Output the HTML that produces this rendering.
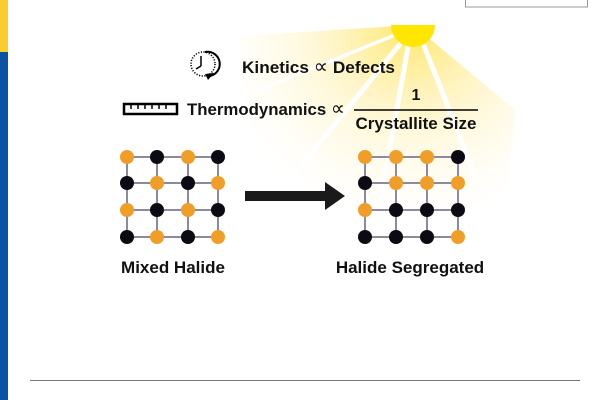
<!DOCTYPE html>
<html><head><style>
body{margin:0;width:600px;height:400px;background:#fff;overflow:hidden;font-family:"Liberation Sans",sans-serif}
</style></head><body>
<svg width="600" height="400" xmlns="http://www.w3.org/2000/svg" style="position:absolute;left:0;top:0">
<defs>
<radialGradient id="g" cx="413" cy="25" r="200" gradientUnits="userSpaceOnUse">
<stop offset="0" stop-color="#ffe24a" stop-opacity="0.85"/>
<stop offset="0.45" stop-color="#ffeb94" stop-opacity="0.45"/>
<stop offset="1" stop-color="#fff8d8" stop-opacity="0"/>
</radialGradient>
</defs>
<rect x="0" y="0" width="8" height="52" fill="#fccb2e"/>
<rect x="0" y="52" width="8" height="348" fill="#0a52a4"/>
<rect x="465.5" y="-2" width="122" height="9" fill="none" stroke="#999" stroke-width="1"/>
<polygon points="413,25 240,36 250,215 505,215 515,110" fill="url(#g)"/>
<g stroke="#fff" stroke-linecap="round">
<line x1="395" y1="35" x2="240" y2="98" stroke-width="3.5"/>
<line x1="400" y1="44" x2="265" y2="210" stroke-width="5"/>
<line x1="408" y1="47" x2="378" y2="215" stroke-width="5"/>
<line x1="424" y1="46" x2="475" y2="175" stroke-width="5"/>
</g>
<path d="M391,25 A22,22 0 0 0 435,25 Z" fill="#ffe600"/>
<!-- clock -->
<circle cx="203" cy="64" r="12" fill="none" stroke="#000" stroke-width="1.5" stroke-dasharray="1.2 1.5"/>
<path d="M205,52 A12,12 0 0 1 210,76" fill="none" stroke="#000" stroke-width="2"/>
<polygon points="205,74 214,73 208,80" fill="#000"/>
<line x1="201" y1="56" x2="201" y2="66" stroke="#000" stroke-width="1.5"/>
<line x1="201" y1="66" x2="196" y2="69" stroke="#000" stroke-width="1.5"/>
<!-- ruler -->
<rect x="124" y="104" width="53" height="10" fill="none" stroke="#000" stroke-width="2.5"/>
<g stroke="#000" stroke-width="1.5"><line x1="131" y1="104" x2="131" y2="109"/><line x1="138" y1="104" x2="138" y2="109"/><line x1="145" y1="104" x2="145" y2="109"/><line x1="152" y1="104" x2="152" y2="109"/><line x1="159" y1="104" x2="159" y2="109"/><line x1="166" y1="104" x2="166" y2="109"/></g>
<g font-family="Liberation Sans" font-weight="bold" fill="#111">
<text x="242" y="73" font-size="17" textLength="153" lengthAdjust="spacingAndGlyphs">Kinetics <tspan font-size="20" font-weight="normal">∝</tspan> Defects</text>
<text x="187" y="115" font-size="17" textLength="158" lengthAdjust="spacingAndGlyphs">Thermodynamics <tspan font-size="20" font-weight="normal">∝</tspan></text>
<text x="416" y="100" font-size="16" text-anchor="middle">1</text>
<text x="416" y="129" font-size="17" text-anchor="middle">Crystallite Size</text>
<text x="173" y="273" font-size="17" text-anchor="middle">Mixed Halide</text>
<text x="410" y="273" font-size="17" text-anchor="middle">Halide Segregated</text>
</g>
<line x1="354" y1="110" x2="478" y2="110" stroke="#000" stroke-width="1.5"/>
<!-- grids -->
<g stroke="#8c8aa0" stroke-width="2">
<path d="M127,157H218M127,183H218M127,210H218M127,237H218M127,157V237M157,157V237M188,157V237M218,157V237"/>
<path d="M365,157H458M365,183H458M365,210H458M365,237H458M365,157V237M396,157V237M427,157V237M458,157V237"/>
</g>
<g fill="#f09e28">
<circle cx="127" cy="157" r="7"/><circle cx="188" cy="157" r="7"/>
<circle cx="157" cy="183" r="7"/><circle cx="218" cy="183" r="7"/>
<circle cx="127" cy="210" r="7"/><circle cx="188" cy="210" r="7"/>
<circle cx="157" cy="237" r="7"/><circle cx="218" cy="237" r="7"/>
<circle cx="365" cy="157" r="7"/><circle cx="396" cy="157" r="7"/><circle cx="427" cy="157" r="7"/>
<circle cx="396" cy="183" r="7"/><circle cx="427" cy="183" r="7"/><circle cx="458" cy="183" r="7"/>
<circle cx="365" cy="210" r="7"/><circle cx="458" cy="237" r="7"/>
</g>
<g fill="#0d0a14">
<circle cx="157" cy="157" r="7"/><circle cx="218" cy="157" r="7"/>
<circle cx="127" cy="183" r="7"/><circle cx="188" cy="183" r="7"/>
<circle cx="157" cy="210" r="7"/><circle cx="218" cy="210" r="7"/>
<circle cx="127" cy="237" r="7"/><circle cx="188" cy="237" r="7"/>
<circle cx="458" cy="157" r="7"/><circle cx="365" cy="183" r="7"/>
<circle cx="396" cy="210" r="7"/><circle cx="427" cy="210" r="7"/><circle cx="458" cy="210" r="7"/>
<circle cx="365" cy="237" r="7"/><circle cx="396" cy="237" r="7"/><circle cx="427" cy="237" r="7"/>
</g>
<!-- arrow -->
<polygon points="245,191 325,191 325,182 345,196 325,210 325,201 245,201" fill="#1a1a1a"/>
<line x1="30" y1="380.5" x2="580" y2="380.5" stroke="#777" stroke-width="1"/>
</svg>
</body></html>
